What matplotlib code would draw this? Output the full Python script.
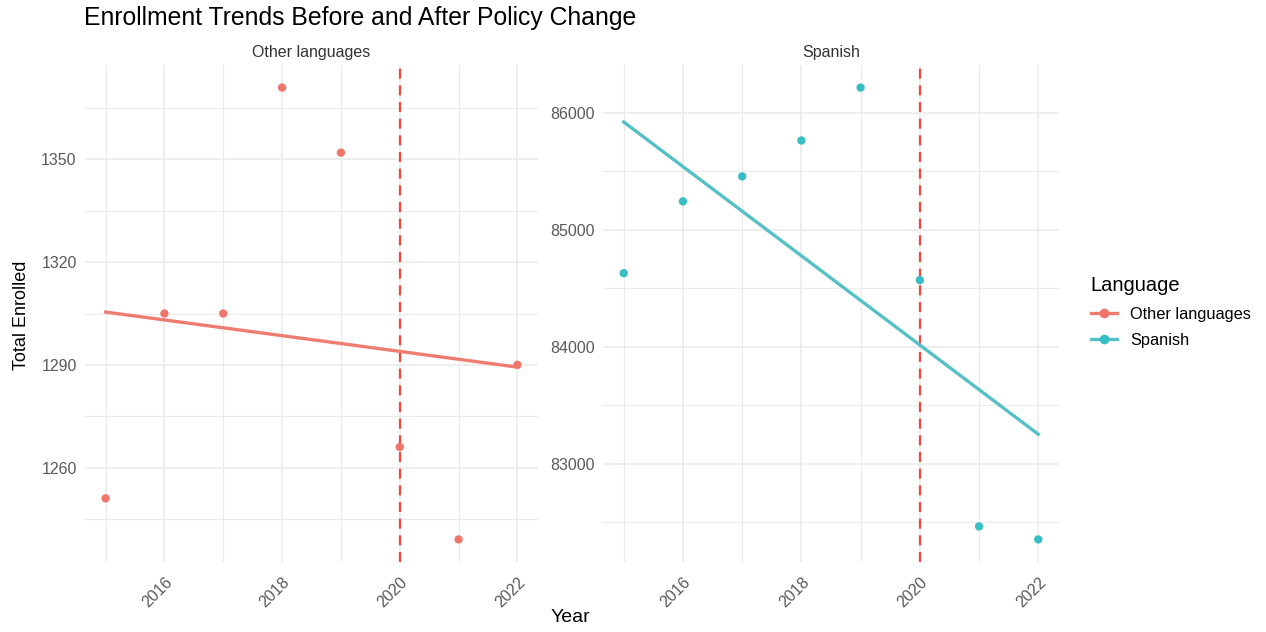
import numpy as np
import matplotlib.pyplot as plt
from matplotlib.lines import Line2D

plt.rcParams['font.family'] = ['Liberation Sans', 'DejaVu Sans']

years = [2015, 2016, 2017, 2018, 2019, 2020, 2021, 2022]
other_enrolled = [1251, 1305, 1305, 1371, 1352, 1266, 1239, 1290]
spanish_enrolled = [84627, 85241, 85454, 85761, 86213, 84568, 82463, 82352]
panel_names = ["Other languages", "Spanish"]
policy_year = 2020

colors = {"Other languages": "#F0766C", "Spanish": "#38BDC4"}
line_colors = {"Other languages": "#EE7D6F", "Spanish": "#55C0C6"}
grid_col = "#EBEBEB"
text_col = "#5A5A5A"


def style_panel(ax, x_major, x_minor, y_major, y_minor):
    ax.set_xticks(x_major)
    ax.set_xticks(x_minor, minor=True)
    ax.set_yticks(y_major)
    ax.set_yticks(y_minor, minor=True)
    ax.grid(True, which='major', color=grid_col, linewidth=1.2, zorder=0)
    ax.grid(True, which='minor', color=grid_col, linewidth=0.8, zorder=0)
    ax.tick_params(which='both', length=0)
    ax.tick_params(axis='y', labelsize=11.5, labelcolor=text_col, pad=6)
    ax.tick_params(axis='x', labelsize=11.5, labelcolor=text_col, pad=9)
    for lbl in ax.get_xticklabels():
        lbl.set_rotation(45)
        lbl.set_ha('right')
        lbl.set_rotation_mode('anchor')
    for s in ax.spines.values():
        s.set_visible(False)
    ax.set_axisbelow(True)


def draw_panel(ax, name, values):
    x = np.array(years)
    y = np.array(values)
    ax.axvline(policy_year, color='#F0463C', linestyle=(0, (4.5, 3)), linewidth=1.6, zorder=2)
    slope, intercept = np.polyfit(x, y, 1)
    ax.plot(x[[0, -1]], intercept + slope * x[[0, -1]], color=line_colors[name], linewidth=2.4, zorder=3)
    ax.scatter(x, y, s=36, color=colors[name], edgecolor='none', zorder=4)
    pad_x = 0.05 * (x.max() - x.min())
    pad_y = 0.05 * (y.max() - y.min())
    ax.set_xlim(x.min() - pad_x, x.max() + pad_x)
    ax.set_ylim(y.min() - pad_y, y.max() + pad_y)
    ax.set_title(name, fontsize=11.5, color='#333333', pad=6)


fig = plt.figure(figsize=(12.66, 6.32), dpi=100)
ax1 = fig.add_axes([85 / 1266, 1 - 562 / 632, (538 - 85) / 1266, (562 - 65) / 632])
ax2 = fig.add_axes([603 / 1266, 1 - 562 / 632, (1059 - 603) / 1266, (562 - 65) / 632])

draw_panel(ax1, panel_names[0], other_enrolled)
draw_panel(ax2, panel_names[1], spanish_enrolled)

style_panel(ax1, [2016, 2018, 2020, 2022], [2015, 2017, 2019, 2021],
            [1260, 1290, 1320, 1350], [1245, 1275, 1305, 1335, 1365])
style_panel(ax2, [2016, 2018, 2020, 2022], [2015, 2017, 2019, 2021],
            [83000, 84000, 85000, 86000], [82500, 83500, 84500, 85500])

fig.text(84 / 1266, 1 - 18 / 632, "Enrollment Trends Before and After Policy Change",
         fontsize=17.8, color='black', ha='left', va='center')
fig.text(570 / 1266, 1 - 617 / 632, "Year", fontsize=14, ha='center', va='center')
fig.text(22 / 1266, 1 - 315 / 632, "Total Enrolled", fontsize=13, rotation=90, ha='center', va='center')

handles = [Line2D([0], [0], color=line_colors[n], linewidth=2.4, marker='o', markersize=6,
                  markerfacecolor=colors[n], markeredgecolor=colors[n]) for n in panel_names]
fig.legend(handles, panel_names, title="Language", loc='center left',
           bbox_to_anchor=(1076 / 1266, 1 - 312 / 632), frameon=False,
           fontsize=11.8, title_fontsize=14.5, handlelength=1.6, handletextpad=0.8,
           labelspacing=0.7, alignment='left')

plt.savefig("out.png", dpi=100)
plt.close()
